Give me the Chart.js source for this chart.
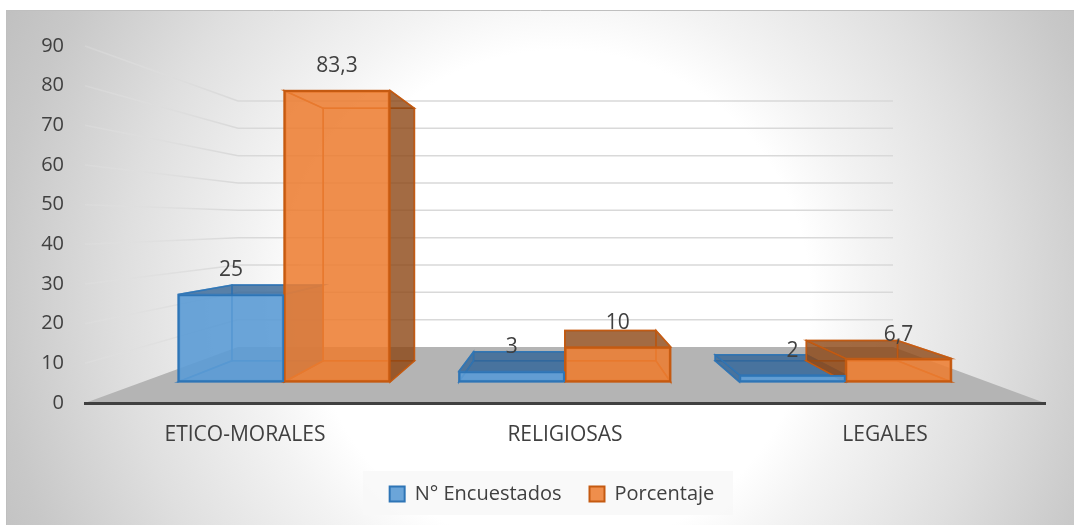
<!DOCTYPE html>
<html>
<head>
<meta charset="utf-8">
<style>
    html, body { margin: 0; padding: 0; background: #fff; }
    #wrap { position: absolute; left: 0; top: 0; width: 1074px; height: 525px; }
</style>
<script src="https://cdn.jsdelivr.net/npm/chart.js@4/dist/chart.umd.min.js"></script>
</head>
<body>
<div id="wrap"><canvas id="chart"></canvas></div>
<script>
(function () {
    "use strict";

    const categories = ['ETICO-MORALES', 'RELIGIOSAS', 'LEGALES'];
    const encuestados = [25, 3, 2];
    const porcentaje = [83.3, 10, 6.7];
    const encuestadosLabels = ['25', '3', '2'];
    const porcentajeLabels = ['83,3', '10', '6,7'];
    const yTicks = [0, 10, 20, 30, 40, 50, 60, 70, 80, 90];

    const font = '"Open Sans", sans-serif';
    const textColor = '#404040';

    // maps the front of a bar onto its back face
    const backX = x => 0.8605 * x + 78.8;
    const backY = y => 0.866 * y + 30;

    function quad(ctx, pts, fill, stroke) {
        ctx.beginPath();
        ctx.moveTo(pts[0][0], pts[0][1]);
        for (let i = 1; i < pts.length; i++) ctx.lineTo(pts[i][0], pts[i][1]);
        ctx.closePath();
        if (fill) { ctx.fillStyle = fill; ctx.fill(); }
        if (stroke) { ctx.strokeStyle = stroke; ctx.lineWidth = 1.5; ctx.stroke(); }
    }

    /* backdrop, floor and back wall */
    const room = {
        id: 'room',
        afterLayout(chart) {
            // legend sits off-centre in the original
            chart.legend.left += 24.5;
            chart.legend.right += 24.5;
            chart.legend.top += 7;
            chart.legend.bottom += 7;
        },
        beforeDraw(chart) {
            const ctx = chart.ctx, y = chart.scales.y, a = chart.chartArea;
            ctx.save();
            const bg = ctx.createRadialGradient(560, 300, 0, 560, 300, 625);
            bg.addColorStop(0, '#ffffff');
            bg.addColorStop(0.4, '#ffffff');
            bg.addColorStop(0.5, '#f3f3f3');
            bg.addColorStop(0.7, '#dfdfdf');
            bg.addColorStop(0.9, '#c8c8c8');
            bg.addColorStop(1, '#c0c0c0');
            ctx.fillStyle = bg;
            ctx.fillRect(6, 10, 1068, 515);
            ctx.strokeStyle = '#bfbfbf';
            ctx.lineWidth = 1;
            ctx.beginPath();
            ctx.moveTo(6.5, 525);
            ctx.lineTo(6.5, 10.5);
            ctx.lineTo(1074, 10.5);
            ctx.stroke();

            // legend panel
            ctx.fillStyle = 'rgba(247,247,247,0.8)';
            ctx.fillRect(363, 471, 370, 44);

            const wallLeft = 238, wallRight = 893;
            const floorY = 0.689 * y.getPixelForValue(0) + 69.3;
            quad(ctx, [[a.left, a.bottom], [wallLeft, floorY], [wallRight, floorY], [a.right, a.bottom]], '#b4b4b4');

            yTicks.forEach(v => {
                if (v === 0) return;
                const py = y.getPixelForValue(v);
                const wy = 0.689 * py + 69.3;
                const g = ctx.createLinearGradient(a.left, 0, wallLeft, 0);
                g.addColorStop(0, 'rgba(225,225,225,0.35)');
                g.addColorStop(1, 'rgba(217,217,217,1)');
                ctx.strokeStyle = g;
                ctx.lineWidth = 1.5;
                ctx.beginPath();
                ctx.moveTo(a.left, py);
                ctx.lineTo(wallLeft, wy);
                ctx.stroke();
                ctx.strokeStyle = '#d9d9d9';
                ctx.beginPath();
                ctx.moveTo(wallLeft, wy);
                ctx.lineTo(wallRight, wy);
                ctx.stroke();
            });
            ctx.restore();
        }
    };

    /* depth faces of the bars, behind the library's front faces */
    const depth = {
        id: 'depth',
        beforeDatasetsDraw(chart) {
            const ctx = chart.ctx;
            ctx.save();
            chart.data.datasets.forEach((ds, i) => {
                chart.getDatasetMeta(i).data.forEach(bar => {
                    const p = bar.getProps(['x', 'y', 'base', 'width'], true);
                    const l = p.x - p.width / 2, r = p.x + p.width / 2;
                    const t = p.y, b = p.base;
                    const bl = backX(l), br = backX(r), bt = backY(t), bb = backY(b);
                    const line = ds.faceLine;
                    quad(ctx, [[bl, bt], [br, bt], [br, bb], [bl, bb]], null, line);
                    quad(ctx, [[l, b], [r, b], [br, bb], [bl, bb]], ds.faceSoft, line);
                    quad(ctx, [[l, t], [r, t], [br, bt], [bl, bt]], bt < t ? ds.faceDark : null, line);
                    quad(ctx, [[l, t], [bl, bt], [bl, bb], [l, b]], bl < l ? ds.faceDark : null, line);
                    quad(ctx, [[r, t], [br, bt], [br, bb], [r, b]], br > r ? ds.faceDark : null, line);
                });
            });
            ctx.restore();
        },
        afterDatasetsDraw(chart) {
            const ctx = chart.ctx;
            ctx.save();
            ctx.font = '21px ' + font;
            ctx.fillStyle = textColor;
            ctx.textAlign = 'center';
            ctx.textBaseline = 'middle';
            chart.data.datasets.forEach((ds, i) => {
                chart.getDatasetMeta(i).data.forEach((bar, j) => {
                    ctx.fillText(ds.valueLabels[j], bar.x, bar.y - 24);
                });
            });
            ctx.restore();
        }
    };

    const data = {
        labels: categories,
        datasets: [{
            label: 'N° Encuestados',
            data: encuestados.map((v, i) => ({ x: i, y: v })),
            valueLabels: encuestadosLabels,
            xAxisID: 'xBars',
            yAxisID: 'yBars',
            backgroundColor: 'rgba(91, 155, 213, 0.9)',
            borderColor: '#2e75b6',
            faceLine: 'rgba(46, 117, 182, 0.8)',
            faceDark: 'rgba(50, 100, 150, 0.8)',
            faceSoft: 'rgba(91, 155, 213, 0.25)'
        }, {
            label: 'Porcentaje',
            data: porcentaje.map((v, i) => ({ x: i, y: v })),
            valueLabels: porcentajeLabels,
            xAxisID: 'xBars',
            yAxisID: 'yBars',
            backgroundColor: 'rgba(237, 125, 49, 0.87)',
            borderColor: '#c55a11',
            faceLine: 'rgba(197, 90, 17, 0.85)',
            faceDark: 'rgba(140, 70, 20, 0.8)',
            faceSoft: 'rgba(237, 125, 49, 0.25)'
        }]
    };

    new Chart(document.getElementById('chart'), {
        type: 'bar',
        data: data,
        plugins: [room, depth],
        options: {
            responsive: true,
            maintainAspectRatio: false,
            animation: false,
            layout: { padding: { left: 10, right: 29, top: 46, bottom: 18 } },
            datasets: { bar: { barThickness: 106, borderWidth: 2, borderSkipped: false } },
            plugins: {
                tooltip: { enabled: false },
                legend: {
                    position: 'bottom',
                    labels: {
                        color: textColor,
                        font: { family: font, size: 20 },
                        boxWidth: 15,
                        boxHeight: 15,
                        padding: 28
                    }
                }
            },
            scales: {
                x: {
                    type: 'category',
                    offset: true,
                    afterFit: s => { s.height = 46; },
                    grid: { display: false },
                    border: { display: true, color: '#404040', width: 3 },
                    ticks: { color: textColor, font: { family: font, size: 21 }, padding: 11, maxRotation: 0 }
                },
                // bars stand on a nearer plane than the axis, so they get their own hidden scales
                xBars: { type: 'linear', display: false, offset: false, bounds: 'data', min: -0.7088, max: 2.7106 },
                y: {
                    position: 'left',
                    min: 0,
                    max: 90,
                    afterFit: s => { s.width = 75; },
                    afterBuildTicks: s => { s.ticks = yTicks.map(v => ({ value: v })); },
                    grid: { display: false },
                    border: { display: false },
                    ticks: { color: textColor, font: { family: font, size: 20 }, padding: 13 }
                },
                yBars: { display: false, min: -6, max: 96 }
            }
        }
    });
})();
</script>
</body>
</html>
